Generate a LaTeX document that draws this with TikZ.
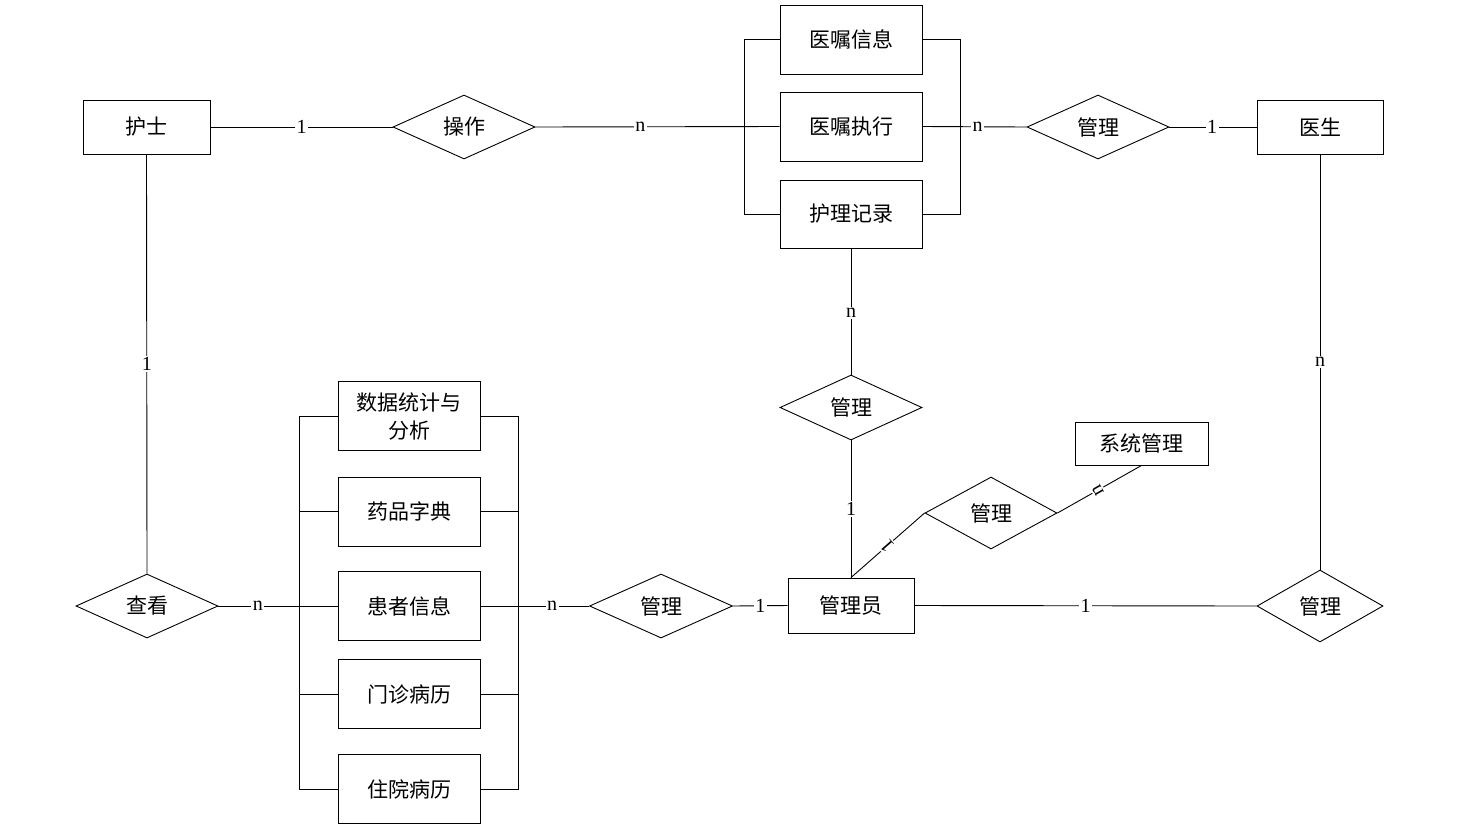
\documentclass[tikz,border=0pt]{standalone}
\usepackage{fontspec}
\setmainfont{Liberation Serif}
\newfontfamily\cjk{Noto Sans CJK SC}
\usetikzlibrary{shapes.geometric}
\tikzset{
  ent/.style={draw, line width=0.9pt, inner sep=0pt, minimum width=142pt, minimum height=69pt, align=center,
    font=\cjk\fontsize{21}{28}\selectfont},
  rel/.style={diamond, draw, line width=0.9pt, aspect=2, inner sep=0pt, minimum width=142pt, minimum height=64pt,
    font=\cjk\fontsize{21}{28}\selectfont},
  lab/.style={fill=white, inner sep=1.5pt, font=\fontsize{20}{20}\selectfont},
  conn/.style={line width=0.9pt}
}
\begin{document}
\begin{tikzpicture}[x=1pt,y=-1pt]
\useasboundingbox (0,0) rectangle (1457,823);
% top row
\node[ent, minimum width=127pt, minimum height=54pt] (nurse) at (146.5,127) {护士};
\node[rel] (op) at (464,127) {操作};
\node[ent] (yzxx) at (851,39.5) {医嘱信息};
\node[ent] (yzzx) at (851,126.5) {医嘱执行};
\node[ent, minimum height=68pt] (hljl) at (851,214) {护理记录};
\node[rel] (mgA) at (1098,127) {管理};
\node[ent, minimum width=126pt, minimum height=54pt] (doctor) at (1320,127) {医生};
% middle
\node[rel, minimum height=65pt] (mgB) at (851,407.5) {管理};
\node[ent, minimum width=126pt, minimum height=55pt] (admin) at (851,605.5) {管理员};
\node[rel, minimum width=132pt, minimum height=72pt] (mgC) at (991,513) {管理};
\node[ent, minimum width=133pt, minimum height=43pt] (sys) at (1141.5,443.5) {系统管理};
\node[rel, minimum width=126pt, minimum height=72pt] (mgD) at (1320,606) {管理};
% left
\node[rel] (look) at (147,606) {查看};
\node[ent] (sj) at (409,416) {数据统计与\\分析};
\node[ent] (yp) at (409,511.5) {药品字典};
\node[ent] (hz) at (409,606) {患者信息};
\node[ent] (mz) at (409,694) {门诊病历};
\node[ent] (zy) at (409,789) {住院病历};
\node[rel, minimum width=143pt] (mgE) at (661,606) {管理};
% connectors
\draw[conn] (nurse.east) -- node[lab, pos=0.5] {1} (op.west);
\draw[conn] (op.east) -- node[lab, pos=0.43] {n} (yzzx.west);
\draw[conn] (yzxx.west) -- ++(-35,0) |- (hljl.west);
\draw[conn] (yzxx.east) -- ++(38,0) |- (hljl.east);
\draw[conn] (yzzx.east) -- node[lab, pos=0.53] {n} (mgA.west);
\draw[conn] (mgA.east) -- node[lab, pos=0.49] {1} (doctor.west);
\draw[conn] (hljl.south) -- node[lab, pos=0.51] {n} (mgB.north);
\draw[conn] (mgB.south) -- node[lab, pos=0.5] {1} (admin.north);
\draw[conn] (admin.north) -- node[lab, pos=0.49, sloped, rotate=90] {1} (mgC.west);
\draw[conn] (mgC.east) -- node[lab, pos=0.48, sloped, rotate=90] {n} (sys.south);
\draw[conn] (admin.east) -- node[lab, pos=0.5] {1} (mgD.west);
\draw[conn] (doctor.south) -- node[lab, pos=0.5] {n} (mgD.north);
\draw[conn] (nurse.south) -- node[lab, pos=0.5] {1} (look.north);
\draw[conn] (look.east) -- node[lab, pos=0.33] {n} (hz.west);
\draw[conn] (sj.west) -- ++(-38,0) |- (zy.west);
\draw[conn] (yp.west) -- ++(-38,0);
\draw[conn] (mz.west) -- ++(-38,0);
\draw[conn] (sj.east) -- ++(38,0) |- (zy.east);
\draw[conn] (yp.east) -- ++(38,0);
\draw[conn] (mz.east) -- ++(38,0);
\draw[conn] (hz.east) -- node[lab, pos=0.66] {n} (mgE.west);
\draw[conn] (mgE.east) -- node[lab, pos=0.5] {1} (admin.west);
\end{tikzpicture}
\end{document}
